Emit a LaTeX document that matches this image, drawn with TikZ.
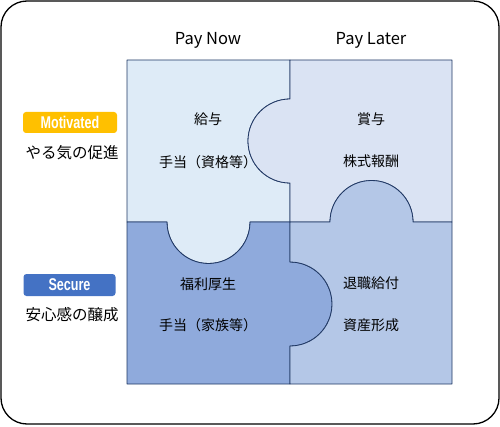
\documentclass[tikz,border=0pt]{standalone}
\usepackage{fontspec}
\setmainfont{Noto Sans CJK JP}
\newfontfamily\tagfont{Liberation Sans}
\usepackage{graphicx}
\definecolor{pTL}{HTML}{DEEBF7}
\definecolor{pTR}{HTML}{DAE3F3}
\definecolor{pBL}{HTML}{8FAADC}
\definecolor{pBR}{HTML}{B4C7E7}
\definecolor{edge}{HTML}{203864}
\definecolor{gold}{HTML}{FFC000}
\definecolor{blueacc}{HTML}{4472C4}
\tikzset{
  piece/.style={draw=edge, line width=0.8pt, line join=round},
  head/.style={font=\fontsize{16.5}{18}\selectfont, inner sep=0pt},
  ptext/.style={font=\fontsize{14}{16}\selectfont, inner sep=0pt},
  ltext/.style={font=\fontsize{15.5}{17}\selectfont, inner sep=0pt},
  tagbox/.style={rounded corners=3pt, minimum width=94pt, minimum height=21pt, inner sep=0pt, text=white, font=\tagfont\bfseries\fontsize{17}{18}\selectfont}
}
\begin{document}
\begin{tikzpicture}[x=1pt,y=1pt]
\useasboundingbox (0,0) rectangle (500,426);
\draw[line width=1.3pt, rounded corners=26pt] (1,2) rectangle (499,425);
% top-left piece
\path[piece, fill=pTL] (127,366) -- (290,366) -- (290,327)
  arc[start angle=90, end angle=270, radius=42pt] -- (290,204) -- (250,204)
  arc[start angle=0, end angle=-180, radius=41.5pt] -- (127,204) -- cycle;
% top-right piece
\path[piece, fill=pTR] (290,366) -- (452,366) -- (452,204) -- (413,204)
  arc[start angle=0, end angle=180, radius=41.5pt] -- (290,204) -- (290,243)
  arc[start angle=-90, end angle=-270, radius=42pt] -- cycle;
% bottom-left piece
\path[piece, fill=pBL] (127,204) -- (167,204)
  arc[start angle=180, end angle=360, radius=41.5pt] -- (290,204) -- (290,164)
  arc[start angle=90, end angle=-90, radius=42pt] -- (290,42) -- (127,42) -- cycle;
% bottom-right piece
\path[piece, fill=pBR] (290,204) -- (330,204)
  arc[start angle=180, end angle=0, radius=41.5pt] -- (452,204) -- (452,42) -- (290,42) -- (290,80)
  arc[start angle=-90, end angle=90, radius=42pt] -- cycle;
% headings
\node[head] (now) at (208,386) {Pay Now};
\node[head] (later) at (371,386) {Pay Later};
% piece texts
\node[ptext] (a1) at (208,307) {給与};
\node[ptext] (a2) at (208,264) {手当（資格等）};
\node[ptext] (b1) at (371,307) {賞与};
\node[ptext] (b2) at (371,265) {株式報酬};
\node[ptext] (c1) at (208,142) {福利厚生};
\node[ptext] (c2) at (208,101) {手当（家族等）};
\node[ptext] (d1) at (371,143) {退職給付};
\node[ptext] (d2) at (371,101) {資産形成};
% left labels
\node[tagbox, fill=gold] (mot) at (70,303.5) {\scalebox{0.74}[1]{Motivated}};
\node[ltext] (motj) at (72,273) {やる気の促進};
\node[tagbox, fill=blueacc, minimum width=92pt, minimum height=22pt] (sec) at (69.5,141) {\scalebox{0.74}[1]{Secure}};
\node[ltext] (secj) at (72,111) {安心感の醸成};
\end{tikzpicture}
\end{document}
